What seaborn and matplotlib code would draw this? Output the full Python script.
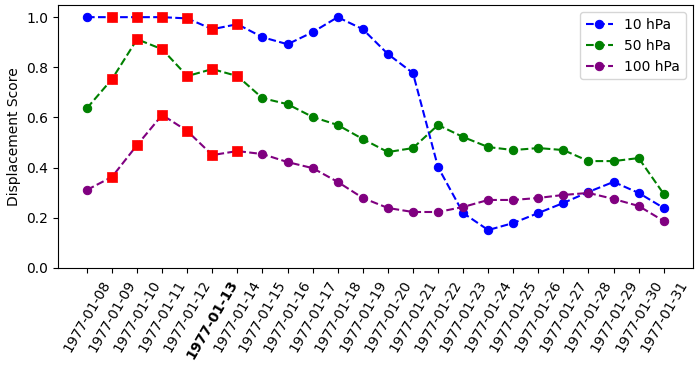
import numpy as np
import pandas as pd
import matplotlib
matplotlib.use("Agg")
import matplotlib.pyplot as plt
import seaborn as sns

dates = ["1977-01-%02d" % d for d in range(8, 32)]
hpa10 = [1.0, 1.0, 1.0, 1.0, 0.995, 0.952, 0.972, 0.92, 0.892, 0.94, 1.0, 0.952,
         0.853, 0.777, 0.402, 0.219, 0.151, 0.179, 0.219, 0.259, 0.303, 0.343, 0.299, 0.239]
hpa50 = [0.637, 0.753, 0.912, 0.872, 0.765, 0.793, 0.765, 0.677, 0.653, 0.602, 0.57, 0.514,
         0.462, 0.478, 0.57, 0.522, 0.482, 0.47, 0.478, 0.47, 0.426, 0.426, 0.438, 0.295]
hpa100 = [0.311, 0.363, 0.49, 0.61, 0.546, 0.45, 0.466, 0.454, 0.422, 0.398, 0.343, 0.279,
          0.239, 0.223, 0.223, 0.243, 0.271, 0.271, 0.279, 0.291, 0.299, 0.275, 0.247, 0.187]
highlight = ["1977-01-09", "1977-01-10", "1977-01-11", "1977-01-12", "1977-01-13", "1977-01-14"]
bold_date = "1977-01-13"

series = [("10 hPa", hpa10, "blue"), ("50 hPa", hpa50, "green"), ("100 hPa", hpa100, "purple")]

fig, ax = plt.subplots(figsize=(6.97, 3.66), dpi=100)
x = np.arange(len(dates))
for name, vals, col in series:
    sns.lineplot(x=x, y=vals, ax=ax, color=col, marker="o", linestyle="--",
                 markersize=6, markeredgecolor=col, label=name)
    # highlighted days drawn as red squares
    mask = np.isin(dates, highlight)
    sns.scatterplot(x=x[mask], y=np.array(vals)[mask], ax=ax, color="red",
                    marker="s", s=45, edgecolor="red", linewidth=0.5, zorder=5)

ax.set_xticks(x)
ax.set_xticklabels(dates, rotation=60)
for lbl in ax.get_xticklabels():
    if lbl.get_text() == bold_date:
        lbl.set_fontweight("bold")
ax.set_xlim(-1.16, len(dates) - 1 + 1.16)
ax.set_ylim(0, 1.048)
ax.set_ylabel("Displacement Score")
ax.set_xlabel("")
ax.legend(loc="upper right")
plt.subplots_adjust(left=0.083, right=0.994, top=0.986, bottom=0.268)
plt.savefig("out.png")
